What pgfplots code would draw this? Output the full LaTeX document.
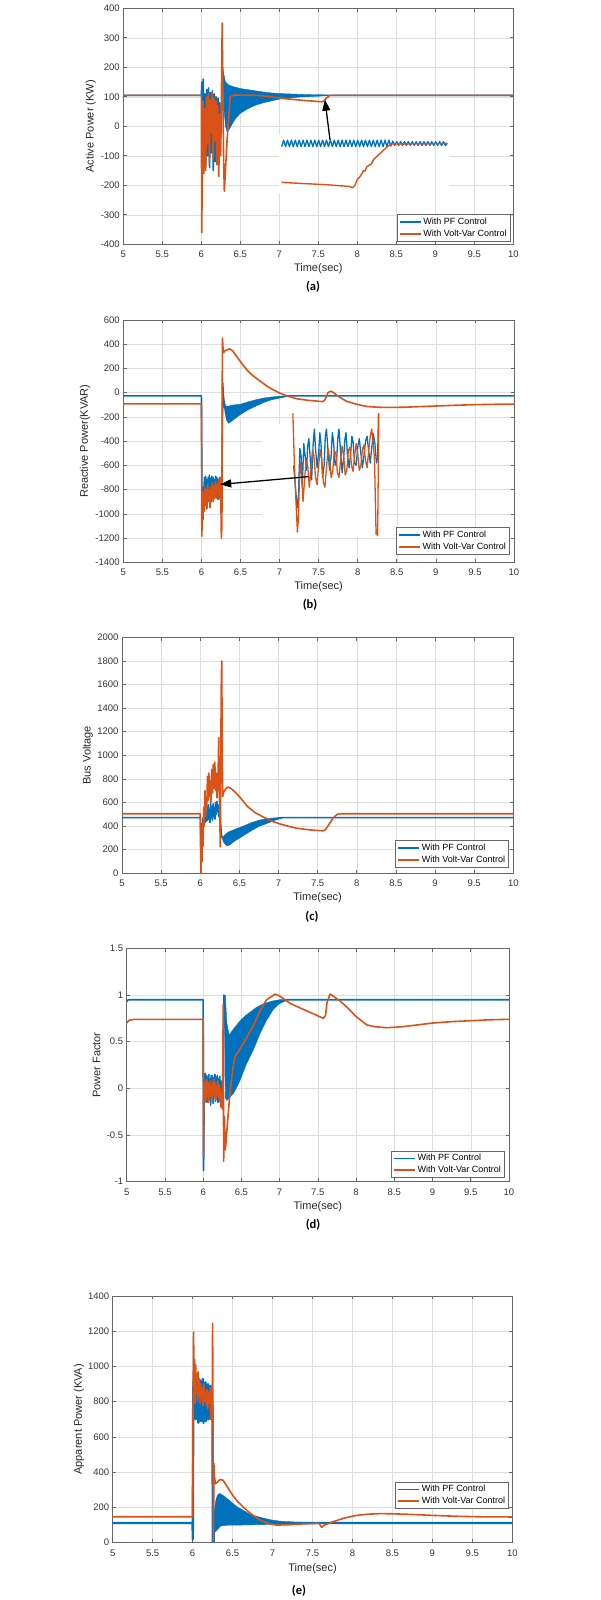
\documentclass[border=0pt]{standalone}
\usepackage{fontspec}
\setmainfont{Liberation Sans}
\newfontfamily\capfont{Carlito}
\usepackage{pgfplots}
\pgfplotsset{compat=1.18}
\usetikzlibrary{arrows.meta}
\definecolor{mblue}{RGB}{0,114,189}
\definecolor{morange}{RGB}{217,83,25}
\pgfplotsset{
  mstyle/.style={
    scale only axis, anchor=south west,
    xmin=5, xmax=10, xtick={5,5.5,6,6.5,7,7.5,8,8.5,9,9.5,10},
    grid=major, grid style={line width=0.5pt, draw=black!13},
    axis line style={draw=black!60, line width=0.7pt},
    tick style={draw=black!60, line width=0.6pt},
    major tick length=3.5pt,
    tick label style={font=\fontsize{9.5}{11}\selectfont, text=black!80},
    xticklabel style={yshift=-3.5pt},
    /pgf/number format/assume math mode=true,
    /pgf/number format/1000 sep={},
    scaled y ticks=false,
    label style={font=\fontsize{11}{12}\selectfont, text=black!85},
    xlabel={Time(sec)},
    legend style={at={(1,0)}, anchor=south east, xshift=-3pt, yshift=3pt,
      draw=black!60, line width=0.6pt, font=\fontsize{9}{10}\selectfont,
      inner sep=1.5pt, row sep=0pt, nodes={inner sep=1.8pt}},
    legend cell align=left,
    legend image code/.code={\draw[#1, line width=1.8pt] (0pt,0pt) -- (21pt,0pt);},
    every axis plot/.append style={line width=1.6pt, line join=round},
  }
}
\begin{document}
\begin{tikzpicture}[x=1pt,y=1pt]
\path[use as bounding box] (0,0) rectangle (600,1600);

% ---------------- (a) ----------------
\begin{axis}[mstyle, at={(123.3pt,1355.7pt)}, width=390pt, height=236pt,
  ymin=-400, ymax=400, ytick={-400,-300,...,400},
  ylabel={Active Power (KW)},
  ylabel style={at={(axis description cs:-0.0836,0.5)}, anchor=center},
  xlabel style={at={(axis description cs:0.5,-0.105)}, anchor=center}]
\addplot[mblue] coordinates {(5,105) (6.000,105) (6.008,150) (6.016,-30) (6.024,160) (6.034,-80) (6.046,110) (6.058,-130) (6.070,125) (6.082,-100) (6.094,130) (6.106,-140) (6.118,115) (6.130,-90) (6.142,120) (6.154,-150) (6.166,110) (6.178,-120) (6.190,100) (6.202,-60) (6.214,95) (6.226,-100) (6.238,80) (6.250,-40) (6.262,60) (6.272,200) (6.280,140) (6.35,60) (6.50,86) (6.70,96) (7.00,101) (7.6,105) (10,105)};
\addplot[forget plot, fill=mblue, draw=mblue, line width=0.4pt] coordinates {(6.272,200) (6.29,175) (6.31,150) (6.35,140) (6.40,135) (6.50,128) (6.60,124) (6.70,120) (6.80,116) (6.90,113) (7.00,111) (7.20,109) (7.40,107) (7.60,106) (7.60,104) (7.40,101) (7.25,99) (7.10,95) (7.00,92) (6.90,86) (6.80,80) (6.70,72) (6.60,60) (6.50,44) (6.45,30) (6.40,10) (6.36,-10) (6.33,-18) (6.31,0) (6.29,60) (6.28,130)} -- cycle;
\addplot[morange] coordinates {(5,105) (6.000,105) (6.006,-360) (6.014,-100) (6.022,85) (6.032,-160) (6.044,60) (6.056,-150) (6.068,100) (6.080,-60) (6.092,110) (6.104,-120) (6.116,90) (6.128,-20) (6.140,115) (6.152,-110) (6.164,95) (6.176,-50) (6.188,85) (6.200,-130) (6.212,70) (6.224,-170) (6.236,40) (6.248,-100) (6.262,200) (6.268,350) (6.275,150) (6.285,-100) (6.295,-220) (6.33,-50) (6.37,100) (6.42,106) (6.70,105) (6.90,100) (7.10,93) (7.30,88) (7.50,84) (7.56,83) (7.60,95) (7.65,105) (10,105)};
\legend{With PF Control, With Volt-Var Control}
\fill[white] (7.0,-30) rectangle (9.18,-225);
\draw[black!13, line width=0.5pt] (7.5,-30) -- (7.5,-225);
\draw[black!13, line width=0.5pt] (8,-30) -- (8,-225);
\draw[black!13, line width=0.5pt] (8.5,-30) -- (8.5,-225);
\draw[black!13, line width=0.5pt] (9,-30) -- (9,-225);
\addplot[forget plot, mblue, line width=1.3pt] coordinates {(7.030,-69) (7.055,-47) (7.080,-69) (7.105,-47) (7.130,-69) (7.155,-47) (7.180,-69) (7.205,-47) (7.230,-69) (7.255,-47) (7.280,-69) (7.305,-47) (7.330,-69) (7.355,-47) (7.380,-69) (7.405,-47) (7.430,-69) (7.455,-47) (7.480,-69) (7.505,-47) (7.530,-69) (7.555,-47) (7.580,-69) (7.605,-47) (7.630,-69) (7.655,-47) (7.680,-69) (7.705,-47) (7.730,-69) (7.755,-47) (7.780,-69) (7.805,-47) (7.830,-69) (7.855,-47) (7.880,-69) (7.905,-47) (7.930,-69) (7.955,-47) (7.980,-69) (8.005,-47) (8.030,-69) (8.055,-47) (8.080,-69) (8.105,-47) (8.130,-69) (8.155,-47) (8.180,-69) (8.205,-47) (8.230,-69) (8.255,-47) (8.280,-69) (8.305,-47) (8.330,-69) (8.355,-47) (8.380,-69) (8.405,-47) (8.430,-67) (8.455,-50) (8.480,-65) (8.505,-52) (8.530,-65) (8.555,-52) (8.580,-65) (8.605,-52) (8.630,-65) (8.655,-52) (8.680,-65) (8.705,-52) (8.730,-65) (8.755,-52) (8.780,-65) (8.805,-52) (8.830,-65) (8.855,-52) (8.880,-65) (8.905,-52) (8.930,-65) (8.955,-52) (8.980,-65) (9.005,-52) (9.030,-65) (9.055,-52) (9.080,-65) (9.105,-52) (9.130,-65) (9.155,-58)};
\addplot[forget plot, morange, line width=1.4pt] coordinates {(7.03,-190) (7.30,-194) (7.60,-198) (7.90,-204) (7.94,-208) (7.97,-200) (8.00,-180) (8.03,-172) (8.06,-160) (8.08,-150) (8.10,-152) (8.12,-138) (8.15,-132) (8.18,-128) (8.21,-112) (8.26,-100) (8.32,-85) (8.38,-70) (8.44,-60) (9.15,-58)};
\draw[black, line width=1.3pt, -{Triangle[length=11pt,width=8pt]}] (7.65,-46) -- (7.585,90);
\end{axis}
\node[font=\capfont\bfseries\fontsize{12.5}{14}\selectfont] at (313,1313) {(a)};

% ---------------- (b) ----------------
\begin{axis}[mstyle, at={(123.3pt,1037.7pt)}, width=390.7pt, height=242.3pt,
  ymin=-1400, ymax=600, ytick={-1400,-1200,...,600},
  ylabel={Reactive Power(KVAR)},
  ylabel style={at={(axis description cs:-0.098,0.5)}, anchor=center},
  xlabel style={at={(axis description cs:0.5,-0.102)}, anchor=center},
  legend style={xshift=-1.5pt, yshift=5pt}]
\addplot[mblue] coordinates {(5,-27) (6.000,-27) (6.006,-800) (6.014,-1040) (6.022,-780) (6.030,-900) (6.038,-700) (6.046,-870) (6.054,-690) (6.062,-880) (6.070,-720) (6.078,-900) (6.086,-700) (6.094,-850) (6.102,-680) (6.110,-870) (6.118,-710) (6.126,-900) (6.134,-690) (6.142,-860) (6.150,-700) (6.158,-880) (6.166,-720) (6.174,-850) (6.182,-690) (6.190,-870) (6.198,-700) (6.206,-860) (6.214,-720) (6.222,-880) (6.230,-700) (6.238,-860) (6.246,-720) (6.254,-850) (6.262,-760) (6.272,80) (6.282,-30) (6.295,-120) (6.40,-160) (6.60,-105) (6.80,-60) (7.00,-35) (7.10,-27) (10,-27)};
\addplot[forget plot, fill=mblue, draw=mblue, line width=0.4pt] coordinates {(6.29,-60) (6.31,-110) (6.35,-110) (6.40,-102) (6.50,-95) (6.60,-75) (6.70,-58) (6.80,-44) (6.90,-35) (7.00,-30) (7.10,-27) (7.10,-30) (7.00,-45) (6.90,-58) (6.80,-80) (6.70,-110) (6.60,-140) (6.50,-180) (6.40,-228) (6.35,-253) (6.32,-225) (6.30,-160) (6.29,-80)} -- cycle;
\addplot[morange] coordinates {(5,-93) (6.000,-93) (6.005,-1185) (6.012,-950) (6.020,-1050) (6.028,-820) (6.036,-980) (6.044,-780) (6.052,-930) (6.060,-800) (6.070,-960) (6.080,-760) (6.090,-900) (6.100,-800) (6.110,-950) (6.120,-780) (6.130,-880) (6.140,-740) (6.150,-900) (6.160,-770) (6.170,-870) (6.180,-730) (6.190,-860) (6.200,-760) (6.210,-880) (6.220,-720) (6.230,-850) (6.240,-700) (6.248,-860) (6.255,-1200) (6.262,-1100) (6.268,450) (6.280,330) (6.30,345) (6.36,362) (6.40,345) (6.45,300) (6.50,255) (6.58,190) (6.65,145) (6.72,110) (6.79,77) (6.86,45) (6.93,20) (7.00,-3) (7.10,-28) (7.22,-50) (7.35,-62) (7.45,-68) (7.55,-74) (7.58,-60) (7.62,0) (7.65,12) (7.68,5) (7.75,-30) (7.86,-72) (8.00,-98) (8.12,-114) (8.25,-120) (8.40,-122) (8.60,-120) (8.80,-115) (9.00,-110) (9.25,-104) (9.50,-99) (9.75,-96) (10,-94)};
\legend{With PF Control, With Volt-Var Control}
\fill[white] (6.77,-262) rectangle (8.31,-1190);
\addplot[forget plot, mblue, line width=1.3pt] coordinates {(7.18,-600) (7.20,-760) (7.225,-950) (7.24,-870) (7.26,-460) (7.275,-520) (7.29,-780) (7.31,-420) (7.33,-540) (7.345,-640) (7.36,-440) (7.375,-380) (7.39,-520) (7.41,-720) (7.43,-420) (7.445,-300) (7.46,-460) (7.48,-620) (7.50,-500) (7.515,-330) (7.53,-420) (7.55,-700) (7.57,-600) (7.585,-360) (7.60,-300) (7.62,-480) (7.64,-640) (7.66,-520) (7.675,-330) (7.69,-400) (7.71,-600) (7.73,-560) (7.745,-380) (7.76,-300) (7.78,-480) (7.80,-660) (7.82,-540) (7.835,-390) (7.85,-330) (7.87,-520) (7.89,-620) (7.91,-500) (7.925,-360) (7.94,-400) (7.96,-580) (7.98,-600) (8.00,-450) (8.02,-380) (8.04,-500) (8.06,-620) (8.08,-520) (8.10,-400) (8.12,-360) (8.14,-480) (8.16,-580) (8.18,-450) (8.20,-340) (8.22,-420) (8.24,-580) (8.255,-540) (8.265,-170)};
\addplot[forget plot, morange, line width=1.3pt] coordinates {(7.17,-170) (7.19,-600) (7.21,-900) (7.228,-1150) (7.24,-1050) (7.255,-700) (7.27,-580) (7.285,-700) (7.30,-900) (7.32,-720) (7.34,-560) (7.36,-600) (7.38,-780) (7.40,-650) (7.42,-480) (7.44,-520) (7.46,-700) (7.48,-760) (7.50,-600) (7.52,-470) (7.54,-560) (7.56,-740) (7.58,-780) (7.60,-620) (7.62,-460) (7.64,-540) (7.66,-700) (7.68,-650) (7.70,-480) (7.72,-500) (7.74,-660) (7.76,-700) (7.78,-560) (7.80,-440) (7.82,-520) (7.84,-680) (7.86,-640) (7.88,-480) (7.90,-450) (7.92,-600) (7.94,-650) (7.96,-520) (7.98,-420) (8.00,-500) (8.02,-640) (8.04,-600) (8.06,-470) (8.08,-430) (8.10,-560) (8.12,-620) (8.14,-480) (8.16,-360) (8.18,-300) (8.20,-420) (8.215,-560) (8.235,-1170) (8.245,-1130) (8.255,-1180) (8.27,-170)};
\draw[black, line width=1.3pt, -{Triangle[length=11pt,width=8pt]}] (7.37,-693) -- (6.24,-757);
\end{axis}
\node[font=\capfont\bfseries\fontsize{12.5}{14}\selectfont] at (310,995) {(b)};

% ---------------- (c) ----------------
\begin{axis}[mstyle, at={(122pt,726.7pt)}, width=391.3pt, height=236pt,
  ymin=0, ymax=2000, ytick={0,200,...,2000},
  ylabel={Bus Voltage},
  ylabel style={at={(axis description cs:-0.0877,0.5)}, anchor=center},
  xlabel style={at={(axis description cs:0.5,-0.105)}, anchor=center},
  legend style={xshift=-1.5pt, yshift=3pt}]
\addplot[mblue] coordinates {(5,472) (6.000,472) (6.005,350) (6.012,280) (6.020,420) (6.028,330) (6.036,470) (6.044,400) (6.052,520) (6.060,430) (6.068,560) (6.076,440) (6.084,520) (6.092,450) (6.100,580) (6.108,460) (6.116,540) (6.124,430) (6.132,600) (6.140,470) (6.148,560) (6.156,450) (6.164,590) (6.172,480) (6.180,550) (6.188,460) (6.196,600) (6.204,500) (6.212,610) (6.220,520) (6.230,580) (6.240,480) (6.250,540) (6.260,420) (6.270,330) (6.28,300) (6.40,300) (6.60,380) (6.80,440) (7.05,472) (10,472)};
\addplot[forget plot, fill=mblue, draw=mblue, line width=0.4pt] coordinates {(6.28,300) (6.32,330) (6.36,350) (6.45,375) (6.55,400) (6.65,428) (6.75,450) (6.85,463) (6.95,470) (7.05,473) (7.05,469) (6.95,448) (6.85,422) (6.75,398) (6.65,360) (6.55,318) (6.45,278) (6.38,242) (6.34,232) (6.30,260)} -- cycle;
\addplot[morange] coordinates {(5,505) (6.000,505) (6.004,200) (6.010,0) (6.016,300) (6.022,100) (6.030,420) (6.036,230) (6.044,560) (6.050,400) (6.060,700) (6.068,480) (6.076,640) (6.084,560) (6.092,820) (6.100,620) (6.110,850) (6.118,650) (6.128,780) (6.136,600) (6.146,880) (6.156,680) (6.166,920) (6.176,720) (6.186,940) (6.196,700) (6.206,850) (6.214,640) (6.226,760) (6.236,1150) (6.244,700) (6.256,225) (6.262,900) (6.268,1580) (6.274,1800) (6.280,1200) (6.286,650) (6.30,690) (6.33,720) (6.36,730) (6.40,715) (6.45,685) (6.50,650) (6.60,568) (6.70,515) (6.81,475) (6.92,440) (7.02,418) (7.13,398) (7.23,382) (7.35,372) (7.45,365) (7.57,360) (7.60,370) (7.65,420) (7.70,470) (7.75,500) (7.80,505) (10,505)};
\legend{With PF Control, With Volt-Var Control}
\end{axis}
\node[font=\capfont\bfseries\fontsize{12.5}{14}\selectfont] at (312,683) {(c)};

% ---------------- (d) ----------------
\begin{axis}[mstyle, at={(126.7pt,418.3pt)}, width=382.3pt, height=233.3pt,
  ymin=-1, ymax=1.5, ytick={-1,-0.5,0,0.5,1,1.5},
  ylabel={Power Factor},
  ylabel style={at={(axis description cs:-0.0785,0.5)}, anchor=center},
  xlabel style={at={(axis description cs:0.5,-0.108)}, anchor=center},
  legend style={xshift=-1.5pt, yshift=1pt}]
\addplot[mblue] coordinates {(5,0.93) (5.02,0.95) (6.000,0.95) (6.004,-0.88) (6.008,-0.72) (6.014,0.10) (6.020,-0.10) (6.026,0.16) (6.034,-0.05) (6.042,0.14) (6.050,-0.15) (6.058,0.12) (6.066,-0.08) (6.074,0.15) (6.082,-0.12) (6.090,0.10) (6.098,-0.18) (6.106,0.14) (6.114,-0.10) (6.122,0.13) (6.130,-0.16) (6.138,0.11) (6.146,-0.08) (6.154,0.15) (6.162,-0.14) (6.170,0.12) (6.178,-0.10) (6.186,0.14) (6.194,-0.15) (6.202,0.10) (6.210,-0.12) (6.218,0.13) (6.226,-0.10) (6.234,0.08) (6.242,-0.12) (6.250,0.05) (6.258,-0.10) (6.264,-0.05) (6.272,1.0) (6.280,0.7) (6.40,0.3) (6.60,0.6) (6.80,0.82) (7.00,0.93) (7.10,0.95) (10,0.95)};
\addplot[forget plot, fill=mblue, draw=mblue, line width=0.4pt] coordinates {(6.28,0.95) (6.29,1.0) (6.31,0.7) (6.34,0.57) (6.40,0.64) (6.50,0.74) (6.57,0.79) (6.70,0.87) (6.80,0.91) (6.90,0.935) (7.00,0.95) (7.10,0.955) (7.10,0.945) (7.00,0.91) (6.92,0.85) (6.83,0.73) (6.75,0.60) (6.66,0.42) (6.56,0.25) (6.48,0.08) (6.40,-0.05) (6.31,-0.13) (6.29,-0.10)} -- cycle;
\addplot[morange] coordinates {(5,0.70) (5.03,0.73) (5.1,0.74) (6.000,0.74) (6.004,-0.73) (6.010,-0.2) (6.016,0.05) (6.024,-0.15) (6.032,0.08) (6.040,-0.12) (6.048,0.10) (6.056,-0.05) (6.064,0.06) (6.072,-0.15) (6.080,0.04) (6.088,-0.08) (6.096,0.08) (6.104,-0.10) (6.112,0.02) (6.120,-0.12) (6.128,0.06) (6.136,-0.05) (6.144,0.10) (6.152,-0.08) (6.160,0.05) (6.168,-0.12) (6.176,0.02) (6.184,-0.06) (6.192,0.08) (6.200,-0.10) (6.208,0.04) (6.216,-0.14) (6.224,0.0) (6.232,-0.20) (6.240,-0.05) (6.248,-0.22) (6.256,0.05) (6.262,0.90) (6.268,-0.78) (6.278,-0.30) (6.288,-0.66) (6.295,-0.62) (6.32,-0.35) (6.35,-0.05) (6.39,0.22) (6.415,0.34) (6.48,0.42) (6.56,0.53) (6.66,0.68) (6.75,0.84) (6.83,0.95) (6.94,1.01) (7.00,0.99) (7.14,0.91) (7.30,0.85) (7.44,0.80) (7.57,0.75) (7.60,0.78) (7.62,0.92) (7.66,1.01) (7.70,0.99) (7.80,0.93) (7.88,0.87) (8.00,0.77) (8.14,0.68) (8.25,0.66) (8.40,0.65) (8.60,0.66) (8.80,0.68) (9.00,0.70) (9.25,0.715) (9.50,0.725) (9.75,0.735) (10,0.74)};
\legend{With PF Control, With Volt-Var Control}
\end{axis}
\node[font=\capfont\bfseries\fontsize{12.5}{14}\selectfont] at (313,375) {(d)};

% ---------------- (e) ----------------
\begin{axis}[mstyle, at={(112.7pt,57.3pt)}, width=399.6pt, height=246.7pt,
  ymin=0, ymax=1400, ytick={0,200,...,1400},
  ylabel={Apparent Power (KVA)},
  ylabel style={at={(axis description cs:-0.084,0.5)}, anchor=center},
  xlabel style={at={(axis description cs:0.5,-0.107)}, anchor=center},
  legend style={xshift=-0.5pt, yshift=31pt}]
\addplot[mblue, line width=2.4pt] coordinates {(5,112) (6.000,112) (6.002,20) (6.008,870) (6.016,930) (6.024,780) (6.032,900) (6.040,700) (6.048,920) (6.056,760) (6.064,930) (6.072,680) (6.080,880) (6.088,730) (6.096,920) (6.104,690) (6.112,900) (6.120,740) (6.128,930) (6.136,680) (6.144,880) (6.152,720) (6.160,910) (6.168,690) (6.176,870) (6.184,730) (6.192,900) (6.200,700) (6.208,880) (6.216,720) (6.224,890) (6.232,700) (6.240,860) (6.248,720) (6.254,0) (6.262,0) (6.266,100) (6.272,180) (6.40,150) (7.0,112) (7.6,112) (10,112)};
\addplot[forget plot, fill=mblue, draw=mblue, line width=0.4pt] coordinates {(6.272,180) (6.29,240) (6.31,270) (6.34,280) (6.40,262) (6.46,240) (6.55,205) (6.63,185) (6.70,165) (6.80,150) (6.90,138) (7.0,128) (7.1,122) (7.3,117) (7.5,115) (7.6,114) (7.6,108) (7.3,106) (7.0,104) (6.8,102) (6.6,100) (6.45,100) (6.35,95) (6.30,70) (6.28,60) (6.272,100)} -- cycle;
\addplot[morange] coordinates {(5,147) (6.000,147) (6.004,700) (6.012,1195) (6.018,900) (6.024,1040) (6.030,790) (6.038,1010) (6.046,850) (6.054,960) (6.062,800) (6.070,970) (6.078,830) (6.086,930) (6.094,790) (6.102,900) (6.110,820) (6.120,880) (6.130,780) (6.140,900) (6.150,800) (6.160,860) (6.170,780) (6.180,870) (6.190,760) (6.200,850) (6.210,790) (6.220,880) (6.230,700) (6.238,850) (6.244,690) (6.250,1245) (6.256,600) (6.262,0) (6.266,450) (6.272,380) (6.285,335) (6.30,340) (6.34,358) (6.38,355) (6.43,320) (6.50,270) (6.56,235) (6.63,204) (6.70,175) (6.77,150) (6.84,130) (6.95,108) (7.05,100) (7.20,102) (7.40,107) (7.58,110) (7.615,88) (7.65,100) (7.75,118) (7.90,140) (8.05,155) (8.20,162) (8.35,165) (8.50,164) (8.70,161) (9.00,155) (9.30,150) (9.60,147) (10,146)};
\legend{With PF Control, With Volt-Var Control}
\end{axis}
\node[font=\capfont\bfseries\fontsize{12.5}{14}\selectfont] at (299,9) {(e)};
\end{tikzpicture}
\end{document}
